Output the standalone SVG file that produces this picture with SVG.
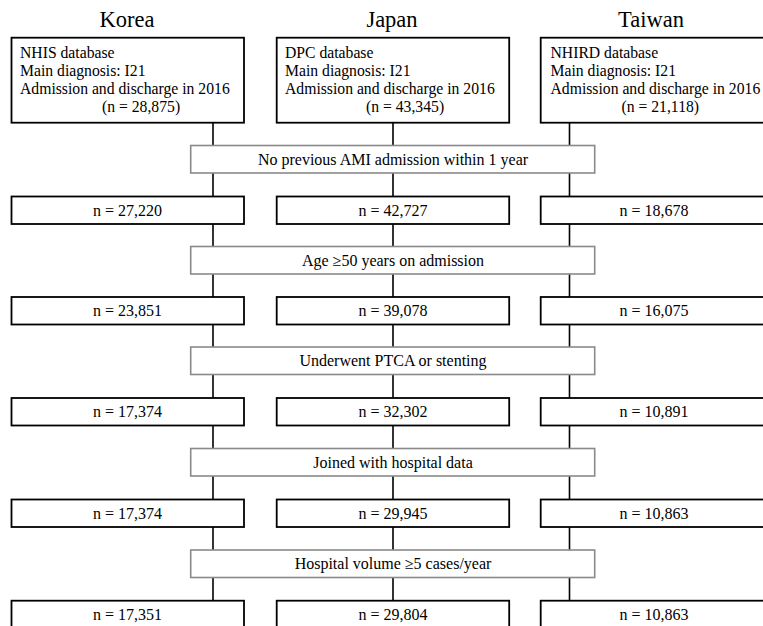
<svg xmlns="http://www.w3.org/2000/svg" width="763" height="626" viewBox="0 0 763 626">
<style>
text{font-family:"Liberation Serif","Times New Roman",serif;fill:#000;font-weight:normal}
.title{font-size:22.5px;text-anchor:middle}
.t{font-size:15.7px}
.c{font-size:16px;text-anchor:middle}
.box{fill:#fff;stroke:#000;stroke-width:1.8}
.crit{fill:#fff;stroke:#8a8a8a;stroke-width:1.6}
.ln{stroke:#000;stroke-width:1.6;fill:none}
</style>
<g id="titles">
<text class="title" x="127" y="27">Korea</text>
<text class="title" x="392" y="27">Japan</text>
<text class="title" x="651" y="27">Taiwan</text>
</g>
<g id="connectors">
<path class="ln" d="M213,122.7V145.5M213,173V196.5M213,224V246.5M213,274V297M213,324.5V347M213,374.5V398M213,425.5V448.5M213,476V499.5M213,527V550M213,577.5V600.7"/>
<path class="ln" d="M393,122.7V145.5M393,173V196.5M393,224V246.5M393,274V297M393,324.5V347M393,374.5V398M393,425.5V448.5M393,476V499.5M393,527V550M393,577.5V600.7"/>
<path class="ln" d="M569.5,122.7V145.5M569.5,173V196.5M569.5,224V246.5M569.5,274V297M569.5,324.5V347M569.5,374.5V398M569.5,425.5V448.5M569.5,476V499.5M569.5,527V550M569.5,577.5V600.7"/>
</g>
<g id="korea-source">
<rect class="box" x="11.5" y="37.7" width="232.5" height="85"/>
<text class="t" x="20" y="57.5">NHIS database</text>
<text class="t" x="20" y="75.5">Main diagnosis: I21</text>
<text class="t" x="20" y="93.5">Admission and discharge in 2016</text>
<text class="t" x="102" y="111.5">(n = 28,875)</text>
</g>
<g id="japan-source">
<rect class="box" x="276.7" y="37.7" width="232.5" height="85"/>
<text class="t" x="285" y="57.5">DPC database</text>
<text class="t" x="285" y="75.5">Main diagnosis: I21</text>
<text class="t" x="285" y="93.5">Admission and discharge in 2016</text>
<text class="t" x="366" y="111.5">(n = 43,345)</text>
</g>
<g id="taiwan-source">
<rect class="box" x="540.7" y="37.7" width="232.5" height="85"/>
<text class="t" x="550.5" y="57.5">NHIRD database</text>
<text class="t" x="550.5" y="75.5">Main diagnosis: I21</text>
<text class="t" x="550.5" y="93.5">Admission and discharge in 2016</text>
<text class="t" x="621.5" y="111.5">(n = 21,118)</text>
</g>
<g id="crit1"><rect class="crit" x="190.7" y="145.5" width="404" height="27.5"/><text class="c" x="393" y="164.5">No previous AMI admission within 1 year</text></g>
<g id="crit2"><rect class="crit" x="190.7" y="246.5" width="404" height="27.5"/><text class="c" x="393" y="265.5">Age ≥50 years on admission</text></g>
<g id="crit3"><rect class="crit" x="190.7" y="347" width="404" height="27.5"/><text class="c" x="393" y="366">Underwent PTCA or stenting</text></g>
<g id="crit4"><rect class="crit" x="190.7" y="448.5" width="404" height="27.5"/><text class="c" x="393" y="467.5">Joined with hospital data</text></g>
<g id="crit5"><rect class="crit" x="190.7" y="550" width="404" height="27.5"/><text class="c" x="393" y="569">Hospital volume ≥5 cases/year</text></g>
<g id="korea-1"><rect class="box" x="11.5" y="196.5" width="232.5" height="27.5"/><text class="c" x="127.5" y="215.5">n = 27,220</text></g>
<g id="japan-1"><rect class="box" x="276.7" y="196.5" width="232.5" height="27.5"/><text class="c" x="393" y="215.5">n = 42,727</text></g>
<g id="taiwan-1"><rect class="box" x="540.7" y="196.5" width="232.5" height="27.5"/><text class="c" x="654" y="215.5">n = 18,678</text></g>
<g id="korea-2"><rect class="box" x="11.5" y="297" width="232.5" height="27.5"/><text class="c" x="127.5" y="316">n = 23,851</text></g>
<g id="japan-2"><rect class="box" x="276.7" y="297" width="232.5" height="27.5"/><text class="c" x="393" y="316">n = 39,078</text></g>
<g id="taiwan-2"><rect class="box" x="540.7" y="297" width="232.5" height="27.5"/><text class="c" x="654" y="316">n = 16,075</text></g>
<g id="korea-3"><rect class="box" x="11.5" y="398" width="232.5" height="27.5"/><text class="c" x="127.5" y="417">n = 17,374</text></g>
<g id="japan-3"><rect class="box" x="276.7" y="398" width="232.5" height="27.5"/><text class="c" x="393" y="417">n = 32,302</text></g>
<g id="taiwan-3"><rect class="box" x="540.7" y="398" width="232.5" height="27.5"/><text class="c" x="654" y="417">n = 10,891</text></g>
<g id="korea-4"><rect class="box" x="11.5" y="499.5" width="232.5" height="27.5"/><text class="c" x="127.5" y="518.5">n = 17,374</text></g>
<g id="japan-4"><rect class="box" x="276.7" y="499.5" width="232.5" height="27.5"/><text class="c" x="393" y="518.5">n = 29,945</text></g>
<g id="taiwan-4"><rect class="box" x="540.7" y="499.5" width="232.5" height="27.5"/><text class="c" x="654" y="518.5">n = 10,863</text></g>
<g id="korea-5"><rect class="box" x="11.5" y="600.7" width="232.5" height="27.5"/><text class="c" x="127.5" y="619.5">n = 17,351</text></g>
<g id="japan-5"><rect class="box" x="276.7" y="600.7" width="232.5" height="27.5"/><text class="c" x="393" y="619.5">n = 29,804</text></g>
<g id="taiwan-5"><rect class="box" x="540.7" y="600.7" width="232.5" height="27.5"/><text class="c" x="654" y="619.5">n = 10,863</text></g>
</svg>
